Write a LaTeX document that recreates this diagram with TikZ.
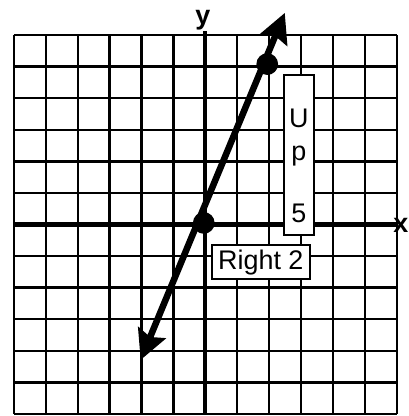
\documentclass[tikz,border=0pt]{standalone}
\usepackage{fontspec}
\setmainfont{Liberation Sans}
\usetikzlibrary{arrows.meta}

\tikzset{
  gridline/.style={line width=2.2pt},
  axisline/.style={line width=3.8pt},
  graphline/.style={line width=5.8pt, {Stealth[length=0.92cm,width=0.92cm,inset=0.14cm]}-{Stealth[length=0.92cm,width=0.92cm,inset=0.14cm]}},
  dot/.style={circle, fill, inner sep=0pt, minimum size=0.68cm},
  stepbox/.style={draw, line width=2pt, fill=white, inner sep=0pt},
  boxtext/.style={font=\fontsize{24}{28}\selectfont},
  axislabel/.style={inner sep=0pt, font=\fontsize{24}{28}\selectfont\bfseries}
}

\begin{document}
\begin{tikzpicture}[x=1cm, y=0.99cm]
        \useasboundingbox (-6.438,-6.064) rectangle (6.375,7.109);

        % grid
        \foreach \i in {-6,...,6} {
          \draw[gridline] (\i,-6) -- (\i,6);
          \draw[gridline] (-6,\i) -- (6,\i);
        }

        % axes
        \node[axislabel, anchor=east] (xlab) at (6.37,-0.03) {x};
        \node[axislabel] (ylab) at (-0.08,6.47) {y};
        \draw[axisline] (-6,0) -- (6,0);
        \draw[axisline] (0,-6) -- (0,6.12);

        % line through the two points
        \coordinate (lo) at (-2.03,-4.29);
        \coordinate (hi) at (2.49,6.70);
        \draw[graphline] (lo) -- (hi);
        \node[dot] (origin) at (-0.05,0.05) {};
        \node[dot] (top) at (1.94,5.08) {};

        % Up 5
        \node[stepbox, minimum width=0.94cm, minimum height=5.01cm] (upbox) at (2.94,2.20) {};
        \node[boxtext, anchor=base] (upU) at (2.93,3.06) {U};
        \node[boxtext, anchor=base] (upp) at (2.93,2.04) {p};
        \node[boxtext, anchor=base] (up5) at (2.93,0.05) {5};

        % Right 2
        \node[stepbox, boxtext, minimum width=3.07cm, minimum height=1.065cm] (rightbox) at (1.74,-1.19) {Right 2};
    \end{tikzpicture}
\end{document}
